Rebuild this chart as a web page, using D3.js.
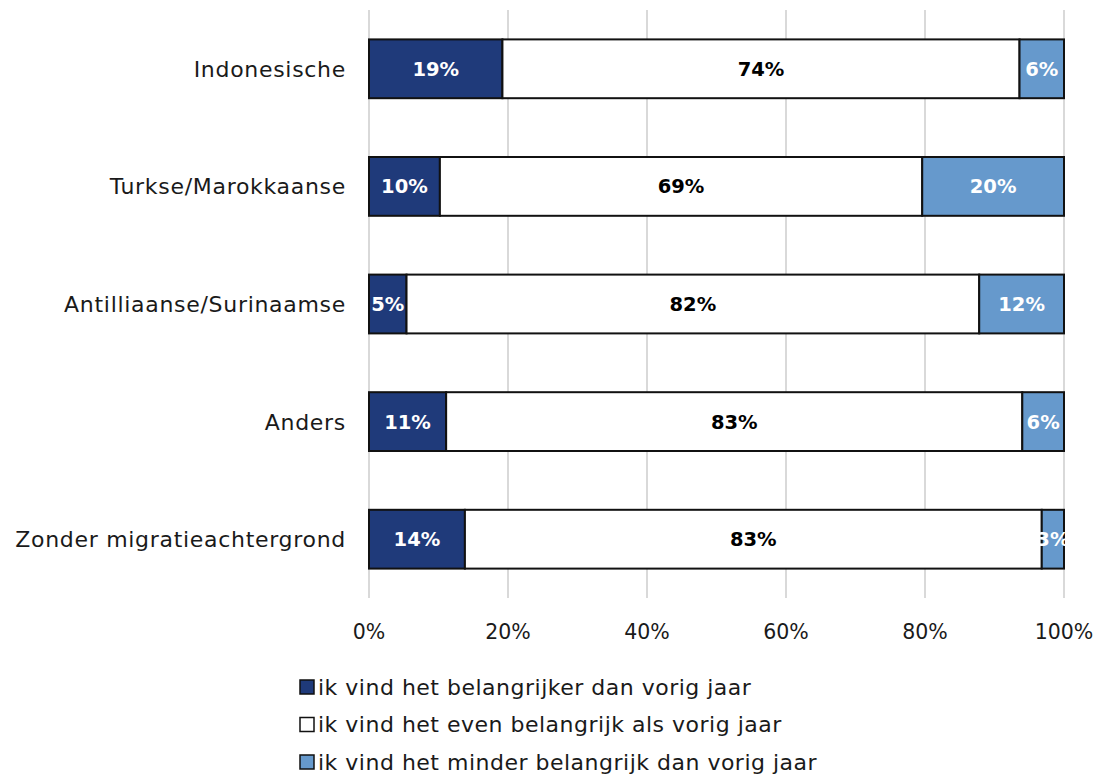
<!DOCTYPE html>
<html>
<head>
<meta charset="utf-8">
<script src="https://cdn.jsdelivr.net/npm/d3@7"></script>
<style>
  html, body { margin: 0; padding: 0; background: #fff; }
  svg { display: block; }
  text { font-family: "DejaVu Sans", sans-serif; }
</style>
</head>
<body>
<svg id="chart" width="1095" height="775"></svg>
<script>
// Groups (top to bottom)
const categories = [
  "Indonesische",
  "Turkse/Marokkaanse",
  "Antilliaanse/Surinaamse",
  "Anders",
  "Zonder migratieachtergrond"
];

// Share per answer (%), one array per series
const belangrijker = [19.2, 10.2, 5.4, 11.1, 13.8];
const evenBelangrijk = [74.4, 69.4, 82.4, 82.9, 83.0];
const minderBelangrijk = [6.4, 20.4, 12.2, 6.0, 3.2];

const seriesNames = [
  "ik vind het belangrijker dan vorig jaar",
  "ik vind het even belangrijk als vorig jaar",
  "ik vind het minder belangrijk dan vorig jaar"
];
const seriesColors = ["#1f3a7a", "#ffffff", "#6699cc"];
const labelColors = ["#ffffff", "#000000", "#ffffff"];

const xTicks = [0, 20, 40, 60, 80, 100];

const svg = d3.select("#chart");
const margin = { left: 369, right: 31, top: 10, bottom: 177 };
const W = 1095, H = 775;

const x = d3.scaleLinear().domain([0, 100]).range([margin.left, W - margin.right]);
const y = d3.scaleBand().domain(categories).range([margin.top, H - margin.bottom]).paddingInner(0.5).paddingOuter(0.25);

// Vertical gridlines
svg.append("g")
  .selectAll("line")
  .data(xTicks)
  .join("line")
  .attr("x1", d => x(d)).attr("x2", d => x(d))
  .attr("y1", margin.top).attr("y2", H - margin.bottom)
  .attr("stroke", "#d9d9d9").attr("stroke-width", 2);

// Stack the series
const rows = categories.map((c, i) => ({
  cat: c, s0: belangrijker[i], s1: evenBelangrijk[i], s2: minderBelangrijk[i]
}));
const stack = d3.stack().keys(["s0", "s1", "s2"]);
const stacked = stack(rows);

const layers = svg.append("g")
  .selectAll("g")
  .data(stacked)
  .join("g")
  .attr("fill", (d, i) => seriesColors[i]);

layers.selectAll("rect")
  .data(d => d)
  .join("rect")
  .attr("x", d => x(d[0]))
  .attr("y", d => y(d.data.cat))
  .attr("width", d => x(d[1]) - x(d[0]))
  .attr("height", y.bandwidth())
  .attr("stroke", "#111")
  .attr("stroke-width", 2);

// Value labels
const labelG = svg.append("g");
stacked.forEach((layer, si) => {
  labelG.selectAll(null)
    .data(layer)
    .join("text")
    .attr("x", d => (x(d[0]) + x(d[1])) / 2)
    .attr("y", d => y(d.data.cat) + y.bandwidth() / 2)
    .attr("dy", "0.36em")
    .attr("text-anchor", "middle")
    .attr("font-size", 19.5)
    .attr("font-weight", "bold")
    .attr("fill", labelColors[si])
    .text(d => Math.round(d[1] - d[0]) + "%");
});

// Category labels
svg.append("g")
  .selectAll("text")
  .data(categories)
  .join("text")
  .attr("x", margin.left - 23)
  .attr("y", d => y(d) + y.bandwidth() / 2)
  .attr("dy", "0.36em")
  .attr("text-anchor", "end")
  .attr("font-size", 22)
  .attr("letter-spacing", 0.7)
  .attr("fill", "#1a1a1a")
  .text(d => d);

// X axis tick labels
svg.append("g")
  .selectAll("text")
  .data(xTicks)
  .join("text")
  .attr("x", d => x(d))
  .attr("y", 632)
  .attr("dy", "0.36em")
  .attr("text-anchor", "middle")
  .attr("font-size", 20.5)
  .attr("fill", "#1a1a1a")
  .text(d => d + "%");

// Legend
const legend = svg.append("g")
  .selectAll("g")
  .data(seriesNames)
  .join("g")
  .attr("transform", (d, i) => `translate(300, ${687 + i * 37.5})`);

legend.append("rect")
  .attr("x", 0).attr("y", -7)
  .attr("width", 14).attr("height", 14)
  .attr("fill", (d, i) => seriesColors[i])
  .attr("stroke", "#111").attr("stroke-width", 1.5);

legend.append("text")
  .attr("x", 18)
  .attr("y", 0)
  .attr("dy", "0.36em")
  .attr("font-size", 22)
  .attr("letter-spacing", 0.5)
  .attr("fill", "#1a1a1a")
  .text(d => d);
</script>
</body>
</html>
